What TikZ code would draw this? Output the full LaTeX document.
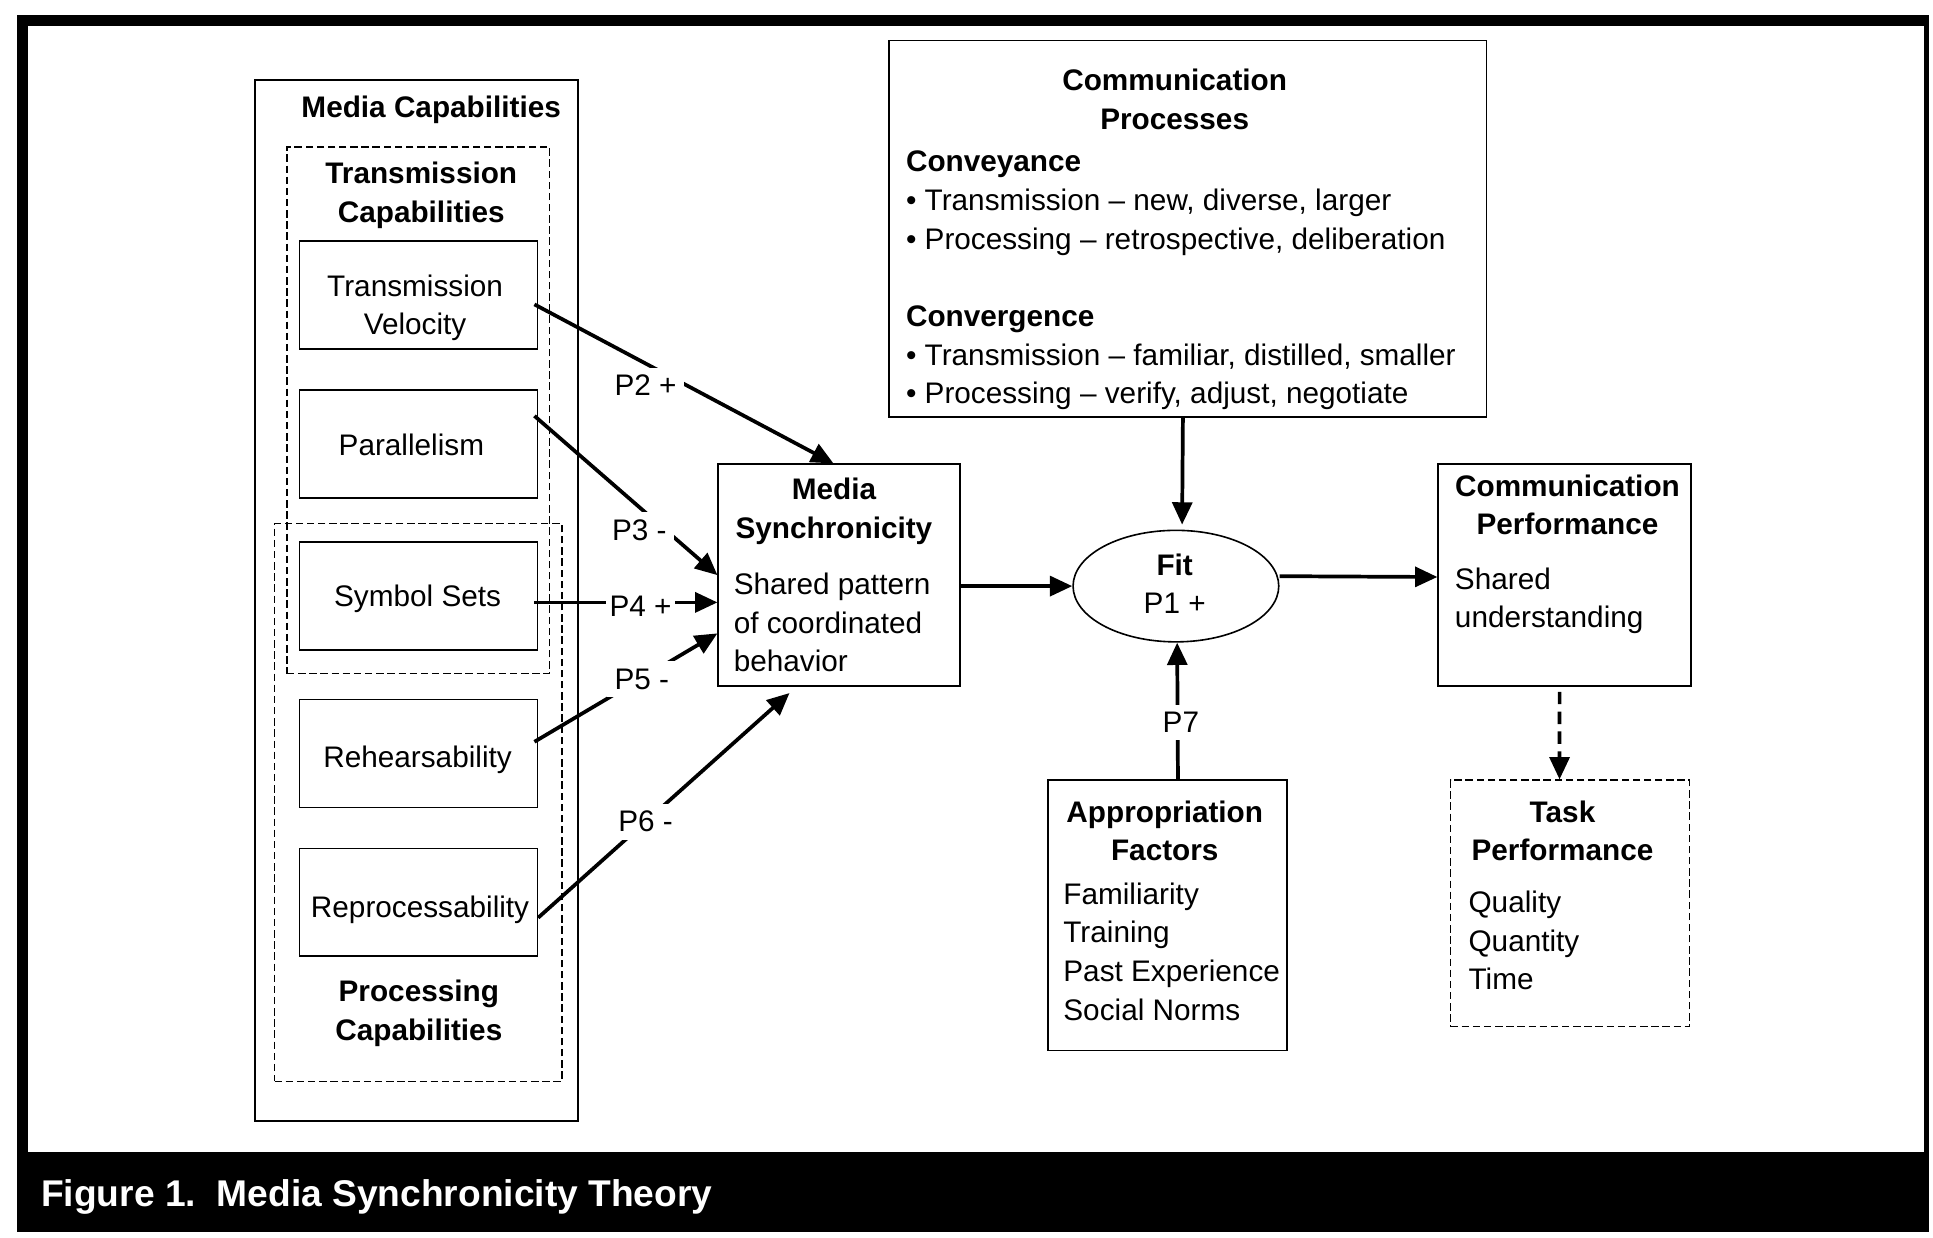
\documentclass[tikz,border=0pt]{standalone}
\usepackage{fontspec}
\setmainfont{Liberation Sans}
\usetikzlibrary{shapes.geometric,arrows.meta,calc}
\newcommand\mytxt{\fontsize{24}{31.2}\selectfont}
\newcommand\mycap{\fontsize{30}{36}\selectfont\bfseries}
\begin{document}
\begin{tikzpicture}[x=1pt,y=-1pt,
  box/.style={draw, line width=1.3pt, anchor=north west, inner sep=0pt},
  dbox/.style={draw, line width=1.2pt, dash pattern=on 6pt off 3pt, anchor=north west, inner sep=0pt},
  txt/.style={font=\mytxt, inner sep=0pt, align=center},
  ttl/.style={font=\mytxt\bfseries, inner sep=0pt, align=center},
  body/.style={font=\mytxt, inner sep=0pt, align=left, anchor=west},
  arr/.style={line width=3pt, -{Triangle[length=18pt,width=16pt]}},
  darr/.style={line width=3pt, dash pattern=on 10pt off 6pt, -{Triangle[length=18pt,width=16pt]}},
  plab/.style={font=\mytxt, fill=white, inner sep=6pt},
]
\useasboundingbox (0,0) rectangle (1560,999);
% frame
\fill[black] (14,12) rectangle (1557,21);
\fill[black] (14,12) rectangle (23,994);
\fill[black] (1553,12) rectangle (1557,994);
\fill[black] (14,930) rectangle (1557,994);
\node[font=\mycap, text=white, anchor=west, inner sep=0pt] (cap) at (33,966) {Figure 1.\ \ Media Synchronicity Theory};

% media capabilities
\node[box, minimum width=261, minimum height=840] (mc) at (205,64) {};
\node[dbox, minimum width=212, minimum height=425] (tc) at (231,118) {};
\node[dbox, minimum width=232, minimum height=450] (pc) at (221,422) {};
\node[box, minimum width=192, minimum height=87] (tv) at (241,194) {};
\node[box, minimum width=192, minimum height=87] (pa) at (241,314) {};
\node[box, minimum width=192, minimum height=87] (ss) at (241,437) {};
\node[box, minimum width=192, minimum height=87] (re) at (241,564) {};
\node[box, minimum width=192, minimum height=87] (rp) at (241,684) {};
\node[ttl] (mct) at (348,89) {Media Capabilities};
\node[ttl] (tct) at (340,157.5) {Transmission\\Capabilities};
\node[txt] (tvt) at (335,248.5) {Transmission\\Velocity};
\node[txt] (pat) at (332,359) {Parallelism};
\node[txt] (sst) at (337,483) {Symbol Sets};
\node[txt] (ret) at (337,613) {Rehearsability};
\node[txt] (rpt) at (339,734) {Reprocessability};
\node[ttl] (pct) at (338,817.5) {Processing\\Capabilities};

% media synchronicity
\node[box, minimum width=195, minimum height=179] (ms) at (579,374) {};
\node[ttl] (mst) at (673,412.5) {Media\\Synchronicity};
\node[body] (msb) at (592,502.5) {Shared pattern\\of coordinated\\behavior};

% communication processes
\node[box, minimum width=482, minimum height=304] (cp) at (717,32) {};
\node[ttl] (cpt) at (948,80) {Communication\\Processes};
\node[body] (cpb) at (731,226.5) {\textbf{Conveyance}\\• Transmission – new, diverse, larger\\• Processing – retrospective, deliberation\\[31.2pt]\textbf{Convergence}\\• Transmission – familiar, distilled, smaller\\• Processing – verify, adjust, negotiate};

% fit
\node[draw, ellipse, line width=1.3pt, minimum width=166, minimum height=90, inner sep=0pt] (fit) at (949,473) {};
\node[txt] (fitt) at (948,471) {\textbf{Fit}\\P1 +};

% communication performance
\node[box, minimum width=204, minimum height=179] (perf) at (1160,374) {};
\node[ttl] (perft) at (1265,407.5) {Communication\\Performance};
\node[body] (perfb) at (1174,485) {Shared\\understanding};

% appropriation factors
\node[box, minimum width=193, minimum height=218] (ap) at (845,629) {};
\node[ttl] (apt) at (940,670.5) {Appropriation\\Factors};
\node[body] (apb) at (858,768) {Familiarity\\Training\\Past Experience\\Social Norms};

% task performance
\node[dbox, minimum width=193, minimum height=199] (task) at (1170,629) {};
\node[ttl] (taskt) at (1261,670.5) {Task\\Performance};
\node[body] (taskb) at (1185,759) {Quality\\Quantity\\Time};

% arrows
\draw[arr] ($(tv.east)+(-3,7.5)$) -- ($(ms.north)+(-4.5,0)$);
\draw[arr] ($(pa.east)+(-3,-22.5)$) -- ($(ms.west)+(0,0)$);
\draw[arr] ($(ss.east)+(-3,5)$) -- ($(ms.west)+(0,22)$);
\draw[arr] ($(re.east)+(-3,-9.5)$) -- ($(ms.west)+(0,47)$);
\draw[arr] ($(rp.east)+(0,12.5)$) -- ($(ms.south)+(-40,5)$);
\draw[arr] (ms.east |- fit.west) -- (fit.west);
\draw[arr] ($(cp.south)+(-4,0)$) -- ($(fit.north)+(5,-4)$);
\draw[arr] ($(ap.north)+(8.5,0)$) -- ($(fit.south)+(1,0)$);
\draw[arr] ($(fit.east)+(0,-8)$) -- ($(perf.west)+(0,1.5)$);
\draw[darr] ($(perf.south)+(-4,4)$) -- ($(task.north)+(-8.5,0)$);

% labels
\node[plab] (l2) at (521,311) {P2 +};
\node[plab] (l3) at (516,428) {P3 -};
\node[plab, inner sep=3pt] (l4) at (517,489) {P4 +};
\node[plab] (l5) at (518,548) {P5 -};
\node[plab] (l6) at (521,663) {P6 -};
\node[plab] (l7) at (953,583) {P7};
\end{tikzpicture}
\end{document}
